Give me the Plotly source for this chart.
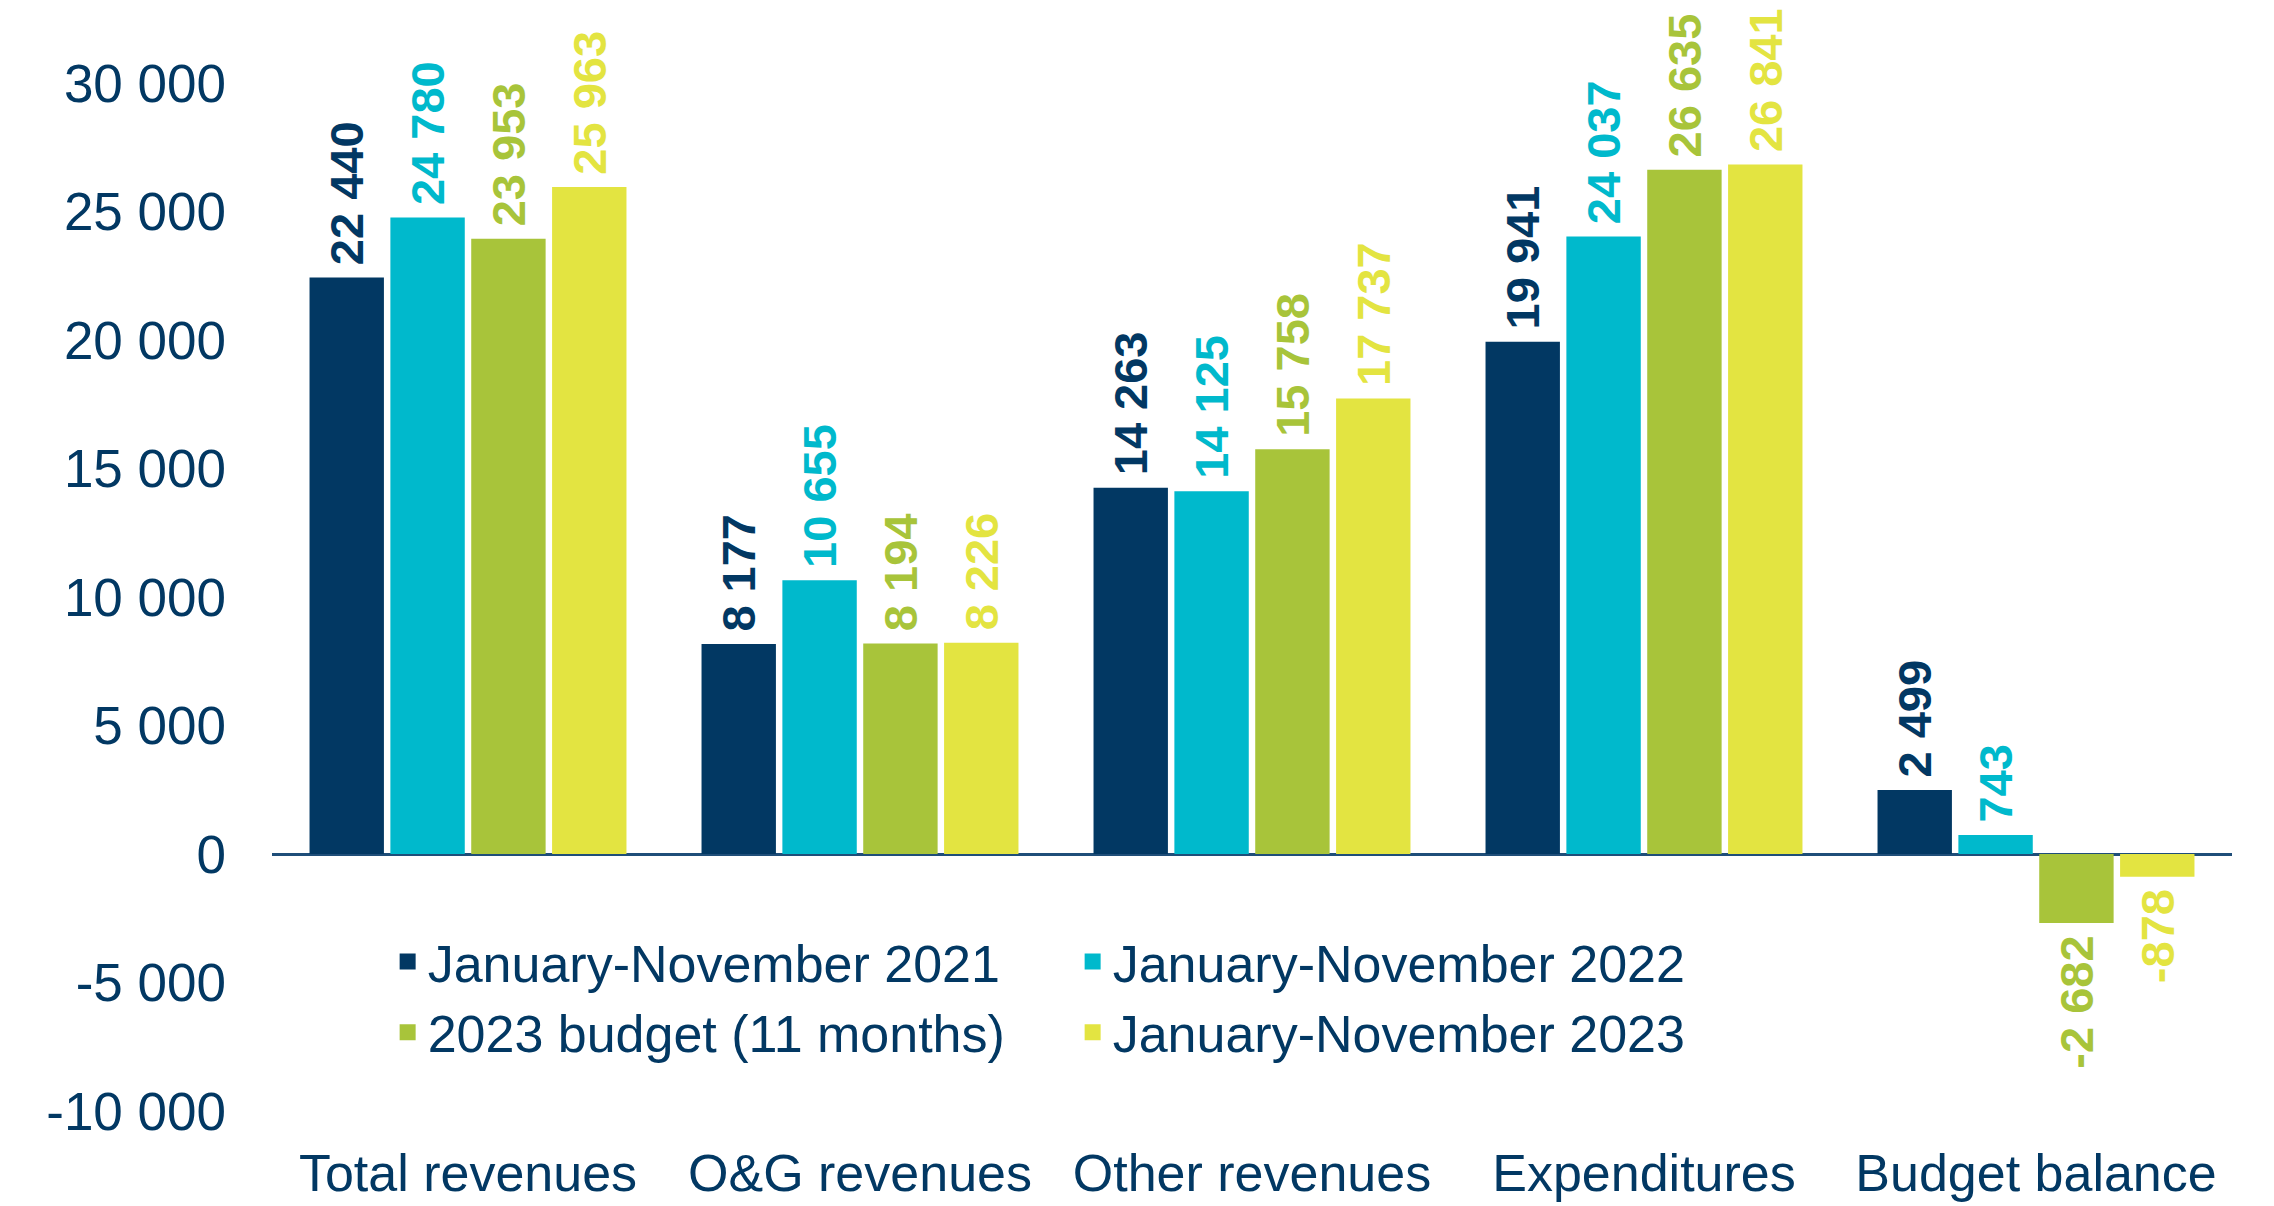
import plotly.graph_objects as go

categories = ["Total revenues", "O&G revenues", "Other revenues", "Expenditures", "Budget balance"]
jan_nov_2021 = [22440, 8177, 14263, 19941, 2499]
jan_nov_2022 = [24780, 10655, 14125, 24037, 743]
budget_2023 = [23953, 8194, 15758, 26635, -2682]
jan_nov_2023 = [25963, 8226, 17737, 26841, -878]
series_names = ["January-November 2021", "January-November 2022",
                "2023 budget (11 months)", "January-November 2023"]
tick_vals = [-10000, -5000, 0, 5000, 10000, 15000, 20000, 25000, 30000]
tick_text = ["-10 000", "-5 000", "0", "5 000", "10 000", "15 000", "20 000", "25 000", "30 000"]

colors = ["#023863", "#00B9CC", "#A8C43A", "#E3E441"]
navy = "#023863"
FONT = "Liberation Sans, Arial, sans-serif"
GAP = "\u2009"


def fmt(v):
    # space as thousands separator, small gap between bar and label
    s = f"{v:,}".replace(",", " ")
    return GAP + s if v >= 0 else s + GAP


fig = go.Figure()
for name, vals, col in zip(series_names, [jan_nov_2021, jan_nov_2022, budget_2023, jan_nov_2023], colors):
    fig.add_trace(go.Bar(
        name=name, x=categories, y=vals,
        marker=dict(color=col, line=dict(width=0)),
        text=[fmt(v) for v in vals],
        textposition="outside",
        textangle=-90,
        constraintext="none",
        cliponaxis=False,
        showlegend=False,
        outsidetextfont=dict(family=FONT, size=47, color=col, weight="bold"),
    ))

# legend entries with bigger square swatches
for name, col in zip(series_names, colors):
    fig.add_trace(go.Scatter(
        name=name, x=[categories[0]], y=[None], mode="markers",
        marker=dict(symbol="square", size=16, color=col),
        showlegend=True, hoverinfo="skip",
    ))

fig.update_layout(
    width=2274, height=1206,
    paper_bgcolor="white", plot_bgcolor="white",
    margin=dict(l=264, r=50, t=24, b=84),
    barmode="group", bargap=0.175, bargroupgap=0.08,
    font=dict(family=FONT, size=52, color=navy),
    showlegend=True,
    legend=dict(orientation="h", x=0.059, y=0.1758, xanchor="left", yanchor="top",
                entrywidth=640, entrywidthmode="pixels",
                font=dict(family=FONT, size=52, color=navy),
                bgcolor="rgba(0,0,0,0)", traceorder="normal"),
    xaxis=dict(showgrid=False, showline=False, ticks="", tickfont=dict(size=52, color=navy),
               ticklabelstandoff=27),
    yaxis=dict(range=[-10000, 32000], showgrid=False, showline=False,
               tickvals=tick_vals, ticktext=tick_text,
               tickfont=dict(size=53, color=navy), ticklabelstandoff=45,
               zeroline=True, zerolinecolor="#1F4E79", zerolinewidth=3),
)

fig.write_html("out.html")
